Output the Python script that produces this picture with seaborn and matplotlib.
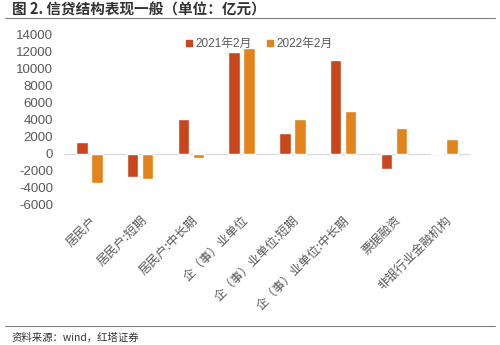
import matplotlib
matplotlib.use("Agg")
import matplotlib.pyplot as plt
from matplotlib.lines import Line2D
import seaborn as sns
import pandas as pd

categories = ["居民户", "居民户:短期", "居民户:中长期", "企（事）业单位",
              "企（事）业单位:短期", "企（事）业单位:中长期", "票据融资", "非银行业金融机构"]
series_names = ["2021年2月", "2022年2月"]
values_2021 = [1400, -2700, 4100, 12000, 2500, 11000, -1800, 150]
values_2022 = [-3400, -2900, -500, 12400, 4100, 5000, 3000, 1800]
yticks = list(range(-6000, 14001, 2000))

df = pd.DataFrame({
    "类别": categories * 2,
    "期间": [series_names[0]] * len(categories) + [series_names[1]] * len(categories),
    "值": values_2021 + values_2022,
})

sns.set_theme(style="white")
plt.rcParams["font.family"] = ["Liberation Sans", "Noto Sans CJK SC", "DejaVu Sans"]

colors = ["#C9461D", "#E2831B"]
gray = "#595959"

fig = plt.figure(figsize=(5.0, 3.45), dpi=100)
ax = fig.add_axes([0.128, 0.406, 0.812, 0.493])

sns.barplot(data=df, x="类别", y="值", hue="期间", palette=colors,
            width=0.59, gap=0.22, ax=ax, legend=False, saturation=1)

ax.set_ylim(-6000, 14000)
ax.set_yticks(yticks)
ax.set_yticklabels([str(v) for v in yticks], fontsize=9.5, color=gray)
ax.set_xlim(-0.5, len(categories) - 0.5)
ax.set_xlabel("")
ax.set_ylabel("")
for s in ax.spines.values():
    s.set_visible(False)
ax.axhline(0, color="#D9D9D9", lw=0.9, zorder=0)
ax.tick_params(axis="y", length=0, pad=8)
ax.tick_params(axis="x", length=0, pad=2)
ax.set_xticks(range(len(categories)))
ax.set_xticklabels(categories, rotation=45, ha="right", va="top",
                   rotation_mode="anchor", fontsize=8.8, color=gray,
                   family=["Noto Sans CJK SC"])
for lbl in ax.get_xticklabels():
    lbl.set_y(-0.035)

handles = [Line2D([], [], marker="s", linestyle="none", markersize=4,
                  markerfacecolor=c, markeredgecolor=c) for c in colors]
leg = ax.legend(handles, series_names, loc="upper center", bbox_to_anchor=(0.48, 1.045),
                ncol=2, frameon=False, handlelength=0.6, handletextpad=0.3,
                columnspacing=1.2,
                prop={"family": ["Liberation Sans", "Noto Sans CJK SC"], "size": 8.5})
for t in leg.get_texts():
    t.set_color(gray)

# header and footer
fig.text(0.024, 0.972, "图 2. 信贷结构表现一般（单位：亿元）", fontsize=10.5, fontweight="bold",
         color="#333333", ha="left", va="center", family=["Noto Sans CJK SC", "DejaVu Sans"])
fig.add_artist(Line2D([0.01, 0.99], [0.948, 0.948], color="#7F7F7F", lw=0.8))
fig.add_artist(Line2D([0.01, 0.99], [0.055, 0.055], color="#7F7F7F", lw=0.8))
fig.text(0.024, 0.022, "资料来源：wind，红塔证券", fontsize=7.5, color="#333333",
         ha="left", va="center", family=["Noto Sans CJK SC", "DejaVu Sans"])

fig.savefig("out.png", dpi=100, facecolor="white")
